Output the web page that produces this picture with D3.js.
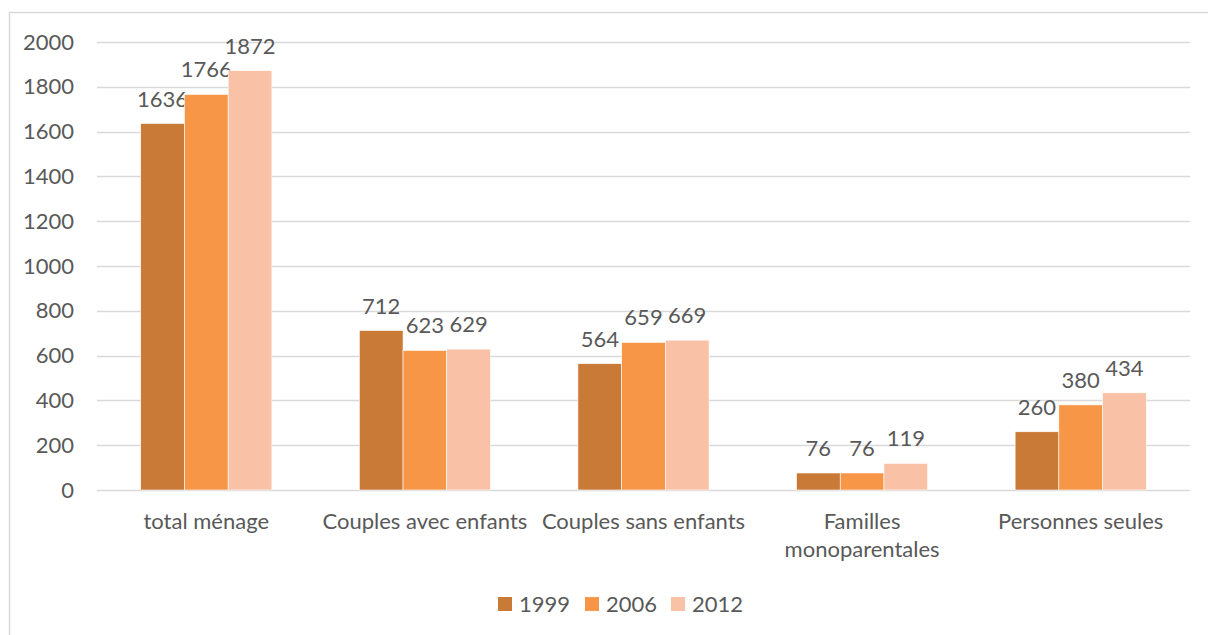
<!DOCTYPE html>
<html>
<head>
<meta charset="utf-8">
<script src="https://cdn.jsdelivr.net/npm/d3@7"></script>
<style>
  html, body { margin: 0; padding: 0; background: #fff; }
  svg { display: block; }
  text { font-family: Lato, "Open Sans", sans-serif; fill: #595959; }
</style>
</head>
<body>
<svg id="chart" width="1208" height="635"></svg>
<script>
// Household counts by type, for three census years
const categories = [["total ménage"], ["Couples avec enfants"], ["Couples sans enfants"], ["Familles", "monoparentales"], ["Personnes seules"]];
const years = ["1999", "2006", "2012"];
const values1999 = [1636, 712, 564, 76, 260];
const values2006 = [1766, 623, 659, 76, 380];
const values2012 = [1872, 629, 669, 119, 434];
const yTicks = [0, 200, 400, 600, 800, 1000, 1200, 1400, 1600, 1800, 2000];
const colors = ["#CA7A37", "#F69646", "#F9C2A6"];

const series = [values1999, values2006, values2012];
const FS = 22;

const svg = d3.select("#chart");
const W = 1208, H = 635;
const plot = { left: 97, right: 1190, top: 42, bottom: 490 };

// outer chart frame
svg.append("rect")
  .attr("x", 9.5).attr("y", 12.5)
  .attr("width", W + 20).attr("height", H + 20)
  .attr("fill", "none").attr("stroke", "#D9D9D9").attr("stroke-width", 1.5);

const x0 = d3.scaleBand()
  .domain(d3.range(categories.length))
  .range([plot.left, plot.right])
  .paddingInner(0.4).paddingOuter(0.2);
const x1 = d3.scaleBand()
  .domain(d3.range(years.length))
  .range([0, x0.bandwidth()]);
const y = d3.scaleLinear().domain([0, 2000]).range([plot.bottom, plot.top]);

// horizontal gridlines
svg.append("g")
  .selectAll("line")
  .data(yTicks)
  .join("line")
  .attr("x1", plot.left).attr("x2", plot.right)
  .attr("y1", d => Math.round(y(d)) + 0.5).attr("y2", d => Math.round(y(d)) + 0.5)
  .attr("stroke", "#D9D9D9").attr("stroke-width", 1.5);

// y axis labels
const yAxis = d3.axisLeft(y).tickValues(yTicks).tickFormat(d3.format("d")).tickSize(0).tickPadding(0);
const yg = svg.append("g").attr("transform", `translate(74,0)`).call(yAxis);
yg.select(".domain").remove();
yg.selectAll("text").attr("font-size", FS).attr("fill", "#595959")
  .style("font-family", "Lato, 'Open Sans', sans-serif");

// bars
const groups = svg.append("g")
  .selectAll("g")
  .data(categories)
  .join("g")
  .attr("transform", (d, i) => `translate(${x0(i)},0)`);

groups.each(function (cat, ci) {
  const g = d3.select(this);
  series.forEach((vals, si) => {
    const v = vals[ci];
    g.append("rect")
      .attr("x", x1(si))
      .attr("y", y(v))
      .attr("width", x1.bandwidth())
      .attr("height", y(0) - y(v))
      .attr("fill", colors[si])
      .attr("stroke", "#fff").attr("stroke-width", 0.6);
    g.append("text")
      .attr("x", x1(si) + x1.bandwidth() / 2)
      .attr("y", y(v) - 17)
      .attr("text-anchor", "middle")
      .attr("font-size", FS)
      .text(v);
  });
});

// category labels
const xg = svg.append("g");
categories.forEach((lines, i) => {
  const t = xg.append("text")
    .attr("x", x0(i) + x0.bandwidth() / 2)
    .attr("y", 529)
    .attr("text-anchor", "middle")
    .attr("font-size", FS);
  lines.forEach((ln, li) => {
    t.append("tspan")
      .attr("x", x0(i) + x0.bandwidth() / 2)
      .attr("dy", li === 0 ? 0 : 28)
      .text(ln);
  });
});

// legend
const legendX = [498, 585, 671];
const legend = svg.append("g");
years.forEach((yr, i) => {
  legend.append("rect")
    .attr("x", legendX[i]).attr("y", 597)
    .attr("width", 14).attr("height", 14)
    .attr("fill", colors[i]);
  legend.append("text")
    .attr("x", legendX[i] + 21).attr("y", 612)
    .attr("font-size", FS)
    .text(yr);
});
</script>
</body>
</html>
